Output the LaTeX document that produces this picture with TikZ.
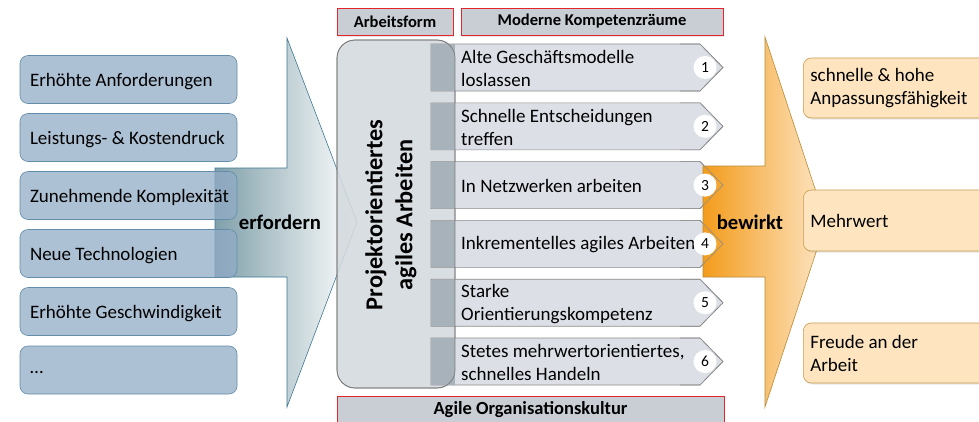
\documentclass[tikz,border=0pt]{standalone}
\usepackage{fontspec}
\setmainfont{Carlito}
\usetikzlibrary{shadows}

\definecolor{boxblue}{RGB}{146,172,198}
\definecolor{boxblueline}{RGB}{98,140,170}
\definecolor{arrowdark}{RGB}{128,160,170}
\definecolor{arrowline}{RGB}{62,120,148}
\definecolor{chevfill}{RGB}{220,224,230}
\definecolor{chevline}{RGB}{140,140,140}
\definecolor{tabgray}{RGB}{168,178,186}
\definecolor{projfill}{RGB}{212,217,222}
\definecolor{projline}{RGB}{122,122,122}
\definecolor{headfill}{RGB}{200,206,212}
\definecolor{headline}{RGB}{226,38,43}
\definecolor{orangedark}{RGB}{243,156,28}
\definecolor{orangelight}{RGB}{253,230,198}
\definecolor{orangeline}{RGB}{185,138,53}
\definecolor{resfill}{RGB}{254,229,192}
\definecolor{resline}{RGB}{200,154,74}

\tikzset{
  softshadow/.style={drop shadow={opacity=0.2, shadow xshift=1pt, shadow yshift=-1.5pt}},
  leftbox/.style={draw=boxblueline, fill=boxblue, fill opacity=0.75, text opacity=1,
    line width=0.6pt, rounded corners=8pt, minimum width=217pt, minimum height=48pt,
    inner xsep=5pt, text width=207pt, align=flush left, text depth=0pt, yshift=-1.5pt,
    execute at begin node={\hspace*{5pt}}, font=\fontsize{19}{22}\selectfont},
  headbox/.style={draw=headline, fill=headfill, line width=0.8pt, minimum height=27pt,
    softshadow, font=\bfseries\fontsize{16.5}{18}\selectfont},
  chev/.style={draw=chevline, fill=chevfill, line width=0.6pt},
  chevoutline/.style={draw=chevline, line width=0.6pt},
  chevtext/.style={anchor=west, inner xsep=6pt, align=flush left, font=\fontsize{19}{23}\selectfont},
  numcircle/.style={circle, fill=white, inner sep=0pt, minimum size=23pt,
    font=\fontsize{15.5}{15.5}\selectfont},
  resbox/.style={draw=resline, fill=resfill, line width=0.6pt, rounded corners=8pt, softshadow,
    anchor=west, minimum width=190pt, inner xsep=7pt, text width=176pt, align=flush left,
    font=\fontsize{19}{23}\selectfont},
  verb/.style={font=\bfseries\fontsize{20.7}{22}\selectfont}
}

\begin{document}
\begin{tikzpicture}[x=1pt,y=-1pt]
\useasboundingbox (0,0) rectangle (979,421);

% arrow from the drivers to the working form
\path[draw=arrowline, line width=0.6pt, left color=arrowdark, right color=white]
  (215,168) -- (287,168) -- (287,38) -- (357,222) -- (287,407) -- (287,277) -- (215,277) -- cycle;

% drivers
\node[leftbox] (d1) at (128.5,78)  {Erhöhte Anforderungen};
\node[leftbox] (d2) at (128.5,136) {Leistungs- \& Kostendruck};
\node[leftbox] (d3) at (128.5,194) {Zunehmende Komplexität};
\node[leftbox] (d4) at (128.5,252) {Neue Technologien};
\node[leftbox] (d5) at (128.5,310) {Erhöhte Geschwindigkeit};
\node[leftbox] (d6) at (128.5,368.5) {\raisebox{-3pt}{\dots}};

\node[verb] (erf) at (280,222) {erfordern};

% column headers
\node[headbox, minimum width=116pt] (h1) at (395,21.5) {Arbeitsform};
\node[headbox, minimum width=262pt] (h2) at (592,21.5) {Moderne Kompetenzräume};

% working form (slightly translucent, the arrow tip shows through)
\node[draw=projline, fill=projfill, fill opacity=0.88, line width=0.7pt, rounded corners=18pt,
  minimum width=118pt, minimum height=348pt] (proj) at (396,214) {};

% competence chevrons
\foreach \i/\t in {1/{Alte Geschäftsmodelle\\loslassen},
                   2/{Schnelle Entscheidungen\\treffen},
                   3/{In Netzwerken arbeiten},
                   4/{Inkrementelles agiles Arbeiten},
                   5/{Starke\\Orientierungskompetenz},
                   6/{Stetes mehrwertorientiertes,\\schnelles Handeln}}{
  \pgfmathsetmacro\c{67.5+58.8*(\i-1)}
  \path[chev] (431,\c-23.5) -- (700,\c-23.5) -- (723,\c) -- (700,\c+23.5) -- (431,\c+23.5) -- cycle;
  \path[fill=tabgray] (431.3,\c-23.2) rectangle (455,\c+23.2);
  \node[chevtext] (k\i) at (455,\c+1) {\t};
}

% outline of the working form on top of the tabs
\draw[projline, line width=0.7pt, rounded corners=18pt] (337,40) rectangle (455,388);
\node[font=\bfseries\fontsize{24.3}{30}\selectfont, rotate=90, align=center] (projtext)
  at (391,215) {Projektorientiertes\\agiles Arbeiten};

% arrow to the results
\path[draw=orangeline, line width=0.6pt, left color=orangedark, right color=orangelight]
  (703,166) -- (765,166) -- (765,37) -- (826,222) -- (765,407) -- (765,277) -- (703,277) -- cycle;

\foreach \i in {1,...,6}{
  \pgfmathsetmacro\c{67.5+58.8*(\i-1)}
  \path[chevoutline] (680,\c-23.5) -- (700,\c-23.5) -- (723,\c) -- (700,\c+23.5) -- (680,\c+23.5);
  \node[numcircle] (n\i) at (705,\c) {\i};
}

\node[verb] (bew) at (750,222) {bewirkt};

% results
\node[resbox, minimum height=60pt] (r1) at (803,88)  {schnelle \& hohe\\Anpassungsfähigkeit};
\node[resbox, minimum height=61pt] (r2) at (803,220.5) {Mehrwert};
\node[resbox, minimum height=60pt] (r3) at (803,353) {Freude an der\\Arbeit};

% culture base
\node[headbox, minimum width=387pt, minimum height=28pt, font=\bfseries\fontsize{18.5}{20}\selectfont]
  (base) at (530.5,410) {Agile Organisationskultur};
\end{tikzpicture}
\end{document}
